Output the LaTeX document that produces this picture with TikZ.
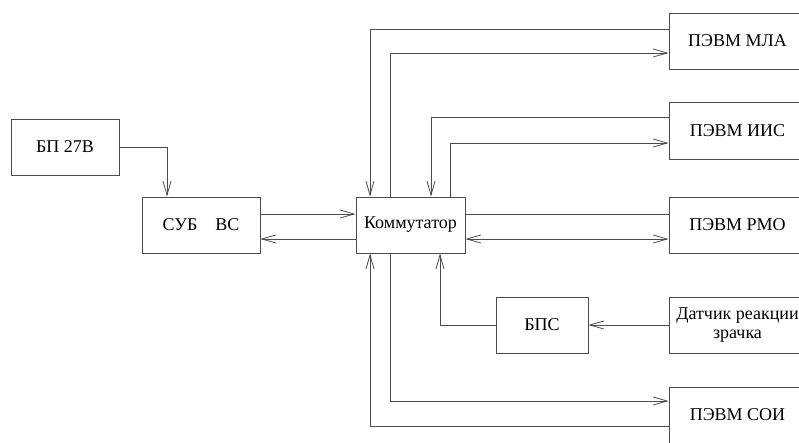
\documentclass[tikz,border=0pt]{standalone}
\usepackage{fontspec}
\setmainfont{Liberation Serif}
\usetikzlibrary{arrows.meta}
\definecolor{linec}{gray}{0.3}
\begin{document}
\begin{tikzpicture}[x=1pt,y=-1pt,
 box/.style={draw=linec, line width=0.9pt, fill=white, inner sep=0pt, align=center,
   font=\fontsize{18}{19}\selectfont, minimum height=56},
 rbox/.style={box, minimum width=137},
 conn/.style={draw=linec, line width=0.8pt},
 arr/.style={-{Straight Barb[length=14pt,width=8pt]}},
 darr/.style={{Straight Barb[length=14pt,width=8pt]}-{Straight Barb[length=14pt,width=8pt]}}]
\clip (0,0) rectangle (799,442);
\fill[white] (0,0) rectangle (799,442);
\node[box, minimum width=108] (bp) at (65,147) {БП 27В};
\node[box, minimum width=118] (sub) at (201,225) {СУБ\quad ВС};
\node[box, minimum width=109] (kom) at (410.5,225) {Коммутатор};
\node[rbox] (mla) at (737.5,41) {ПЭВМ МЛА};
\node[rbox, minimum height=57] (iis) at (737.5,130.5) {ПЭВМ ИИС};
\node[rbox] (rmo) at (737.5,225) {ПЭВМ РМО};
\node[box, minimum width=92] (bps) at (542,325) {БПС};
\node[rbox] (dat) at (737.5,325) {Датчик реакции\\зрачка};
\node[rbox] (soi) at (737.5,415) {ПЭВМ СОИ};
% power
\draw[conn,arr] (bp.east) -| ([xshift=-34]sub.north);
% SUB - kommutator
\draw[conn,arr] ([yshift=11]sub.east) -- ([yshift=11]kom.west);
\draw[conn,arr] ([yshift=-14]kom.west) -- ([yshift=-14]sub.east);
% kommutator - RMO
\draw[conn] ([yshift=11]kom.east) -- ([yshift=11]rmo.west);
\draw[conn,darr] ([yshift=-14]kom.east) -- ([yshift=-14]rmo.west);
% MLA
\draw[conn,arr] ([yshift=12]mla.west) -| ([xshift=-40.5]kom.north);
\draw[conn,arr] ([xshift=-20.5]kom.north) |- ([yshift=-12]mla.west);
% IIS
\draw[conn,arr] ([yshift=13.5]iis.west) -| ([xshift=20.5]kom.north);
\draw[conn,arr] ([xshift=39.5]kom.north) |- ([yshift=-12.5]iis.west);
% BPS
\draw[conn,arr] (dat.west) -- (bps.east);
\draw[conn,arr] (bps.west) -| ([xshift=29.5]kom.south);
% SOI
\draw[conn,arr] ([xshift=-20.5]kom.south) |- ([yshift=14]soi.west);
\draw[conn,arr] ([yshift=-11]soi.west) -| ([xshift=-40.5]kom.south);
\end{tikzpicture}
\end{document}
